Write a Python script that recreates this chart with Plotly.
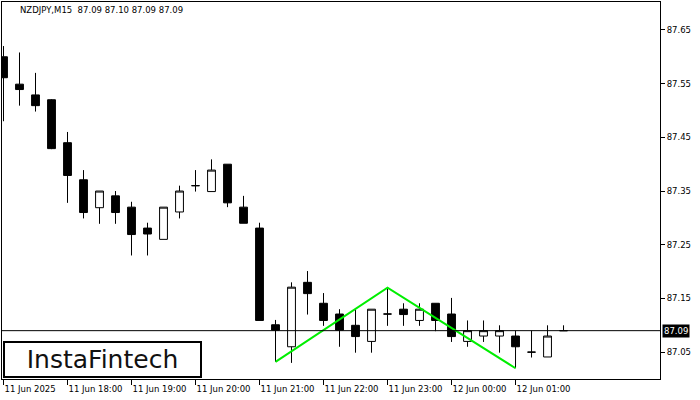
import plotly.graph_objects as go
import pandas as pd

# ---- data ----
symbol_title = "NZDJPY,M15\u00a0 87.09 87.10 87.09 87.09"
start_time = "2025-06-11 17:00"
opens = [87.600, 87.549, 87.529, 87.520, 87.440, 87.371, 87.319, 87.341, 87.320, 87.281,
         87.260, 87.311, 87.360, 87.349, 87.400, 87.320, 87.281, 87.101, 87.060, 87.180,
         87.141, 87.121, 87.100, 87.070, 87.121, 87.130, 87.109, 87.141, 87.121, 87.070,
         87.080, 87.080, 87.080, 87.050, 87.041, 87.090]
highs = [87.620, 87.608, 87.570, 87.521, 87.460, 87.389, 87.350, 87.350, 87.330, 87.291,
         87.320, 87.360, 87.389, 87.409, 87.400, 87.341, 87.291, 87.110, 87.180, 87.201,
         87.160, 87.130, 87.129, 87.130, 87.170, 87.141, 87.141, 87.141, 87.151, 87.109,
         87.109, 87.100, 87.090, 87.090, 87.100, 87.100]
lows = [87.480, 87.509, 87.498, 87.428, 87.328, 87.299, 87.289, 87.289, 87.230, 87.230,
        87.260, 87.299, 87.349, 87.349, 87.320, 87.290, 87.109, 87.032, 87.030, 87.120,
        87.099, 87.060, 87.049, 87.049, 87.099, 87.099, 87.099, 87.089, 87.069, 87.060,
        87.069, 87.049, 87.020, 87.040, 87.041, 87.090]
closes = [87.561, 87.539, 87.509, 87.429, 87.379, 87.310, 87.350, 87.310, 87.269, 87.270,
          87.320, 87.350, 87.360, 87.389, 87.328, 87.290, 87.109, 87.091, 87.171, 87.159,
          87.109, 87.091, 87.079, 87.130, 87.121, 87.120, 87.130, 87.109, 87.079, 87.090,
          87.090, 87.090, 87.060, 87.050, 87.080, 87.090]

price_ticks = [87.05, 87.15, 87.25, 87.35, 87.45, 87.55, 87.65]
time_tick_values = ["2025-06-11 17:00", "2025-06-11 18:00", "2025-06-11 19:00",
                    "2025-06-11 20:00", "2025-06-11 21:00", "2025-06-11 22:00",
                    "2025-06-11 23:00", "2025-06-12 00:00", "2025-06-12 01:00"]
time_tick_labels = ["11 Jun 2025", "11 Jun 18:00", "11 Jun 19:00", "11 Jun 20:00",
                    "11 Jun 21:00", "11 Jun 22:00", "11 Jun 23:00", "12 Jun 00:00",
                    "12 Jun 01:00"]
# double-bottom pattern: candle indices of the pattern points
pattern_low1, pattern_peak, pattern_low2 = 17, 24, 32
logo_text = "InstaFintech"

# ---- build ----
times = pd.date_range(start_time, periods=len(opens), freq="15min")
idx = list(range(len(opens)))
time_pos = {t: i for i, t in enumerate(times)}
tickvals = [time_pos[pd.Timestamp(t)] for t in time_tick_values]

FONT = "DejaVu Sans"

fig = go.Figure()
fig.add_trace(go.Candlestick(
    x=idx, open=opens, high=highs, low=lows, close=closes,
    increasing=dict(line=dict(color="black", width=1), fillcolor="white"),
    decreasing=dict(line=dict(color="black", width=1), fillcolor="black"),
    whiskerwidth=0, showlegend=False, hoverinfo="skip",
))

fig.add_trace(go.Scatter(
    x=[pattern_low1, pattern_peak, pattern_low2],
    y=[lows[pattern_low1], highs[pattern_peak], lows[pattern_low2]],
    mode="lines", line=dict(color="#00ee00", width=2),
    showlegend=False, hoverinfo="skip",
))

# current price line
fig.add_shape(type="line", xref="paper", x0=0, x1=1, yref="y",
              y0=closes[-1], y1=closes[-1], line=dict(color="black", width=1))

fig.update_layout(
    width=700, height=400,
    margin=dict(l=2, r=40, t=2, b=21),
    paper_bgcolor="white", plot_bgcolor="white",
    font=dict(family=FONT, size=8.5, color="black"),
    showlegend=False,
    xaxis=dict(
        range=[-0.094, 41.03], rangeslider=dict(visible=False),
        automargin=False,
        showgrid=False, zeroline=False,
        showline=True, linecolor="black", linewidth=1, mirror=True,
        ticks="outside", ticklen=5, tickcolor="black", tickwidth=1,
        tickvals=tickvals, ticktext=time_tick_labels,
        ticklabelposition="outside right", ticklabelstandoff=2,
        tickfont=dict(family=FONT, size=8.5, color="black"),
    ),
    yaxis=dict(
        range=[87.000, 87.702], side="right",
        automargin=False,
        showgrid=False, zeroline=False,
        showline=True, linecolor="black", linewidth=1, mirror=True,
        ticks="outside", ticklen=4, tickcolor="black", tickwidth=1,
        tickvals=price_ticks, ticktext=[f"{v:.2f}" for v in price_ticks],
        tickfont=dict(family=FONT, size=8.5, color="black"),
    ),
)

# title text
fig.add_annotation(text=symbol_title, xref="paper", yref="paper",
                   x=16 / 658, y=(379 - 10) / 377, xanchor="left", yanchor="middle",
                   showarrow=False, font=dict(family=FONT, size=8.5, color="black"))

# current price label on axis
fig.add_annotation(text=f"{closes[-1]:.2f}", xref="paper", yref="y",
                   x=1, y=closes[-1], xanchor="left", yanchor="middle", xshift=2,
                   showarrow=False, bgcolor="black", borderpad=1,
                   font=dict(family=FONT, size=8.5, color="white"))

# logo
fig.add_annotation(text=logo_text, xref="paper", yref="paper",
                   x=1 / 658, y=1 / 377, xanchor="left", yanchor="bottom",
                   showarrow=False, bgcolor="white", bordercolor="black",
                   borderwidth=2, borderpad=0, width=195, height=33, align="center",
                   font=dict(family=FONT, size=25, color="#111111"))

fig.write_html("out.html", config={"displayModeBar": False},
               post_script="document.body.style.margin='0px';document.body.style.overflow='hidden';")
